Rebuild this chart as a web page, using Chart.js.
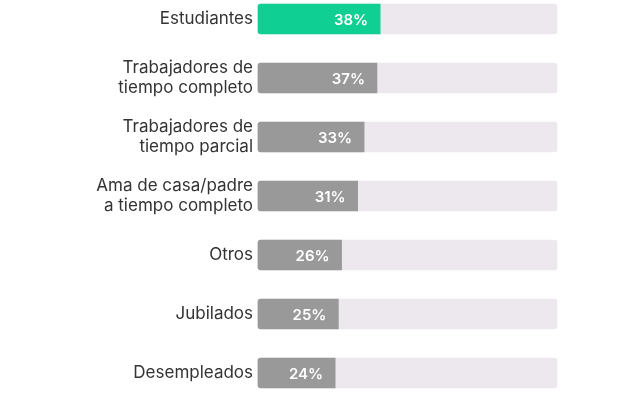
<!DOCTYPE html>
<html>
<head>
<meta charset="utf-8">
<script src="https://cdn.jsdelivr.net/npm/chart.js@4"></script>
<style>
  html, body { margin: 0; padding: 0; background: #fff; }
  #wrap { width: 643px; height: 397px; }
</style>
</head>
<body>
<div id="wrap"><canvas id="chart"></canvas></div>
<script>
// categorías (etiquetas en varias líneas)
const categories = [
    ['Estudiantes'],
    ['Trabajadores de', 'tiempo completo'],
    ['Trabajadores de', 'tiempo parcial'],
    ['Ama de casa/padre', 'a tiempo completo'],
    ['Otros'],
    ['Jubilados'],
    ['Desempleados']
];
const values = [38, 37, 33, 31, 26, 25, 24];
// fondo de cada barra (pista)
const trackMax = 93;
const trackValues = categories.map(() => trackMax);

const FONT = 'Inter, "Noto Sans", sans-serif';

// dibuja el porcentaje dentro del extremo de la barra
const valueLabels = {
    id: 'valueLabels',
    afterDatasetsDraw(chart) {
        const ctx = chart.ctx;
        const meta = chart.getDatasetMeta(0);
        ctx.save();
        ctx.fillStyle = '#ffffff';
        ctx.font = '600 15px ' + FONT;
        ctx.textAlign = 'right';
        ctx.textBaseline = 'middle';
        meta.data.forEach((bar, i) => {
            ctx.fillText(values[i] + '%', bar.x - 12, bar.y + 1);
        });
        ctx.restore();
    }
};

new Chart(document.getElementById('chart'), {
    type: 'bar',
    data: {
        labels: categories,
        datasets: [
            {
                data: values,
                backgroundColor: values.map((v, i) => i === 0 ? '#0fd092' : '#999999'),
                barThickness: 30,
                borderRadius: { topLeft: 3, bottomLeft: 3, topRight: 0, bottomRight: 0 },
                borderSkipped: false,
                grouped: false,
                order: 0,
                clip: false
            },
            {
                data: trackValues,
                backgroundColor: '#ede8ee',
                barThickness: 30,
                borderRadius: 3,
                borderSkipped: false,
                grouped: false,
                order: 1,
                clip: false
            }
        ]
    },
    options: {
        indexAxis: 'y',
        responsive: true,
        maintainAspectRatio: false,
        animation: false,
        layout: {
            padding: { top: 19, bottom: 24, left: 0, right: 86 }
        },
        plugins: {
            legend: { display: false },
            tooltip: { enabled: false }
        },
        scales: {
            x: {
                display: false,
                min: 0,
                max: trackMax
            },
            y: {
                offset: false,
                grid: { display: false, drawTicks: false },
                border: { display: false },
                afterFit(scale) {
                    scale.width = 258;
                },
                ticks: {
                    color: '#333333',
                    padding: 5,
                    font: { family: FONT, size: 17, lineHeight: 1.15 }
                }
            }
        }
    },
    plugins: [valueLabels]
});
</script>
</body>
</html>
